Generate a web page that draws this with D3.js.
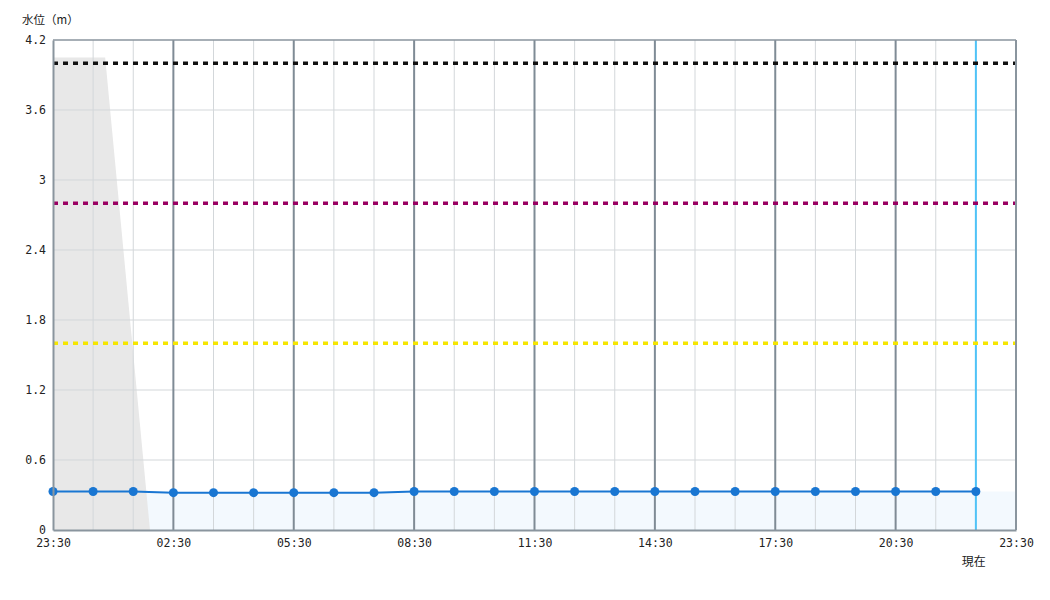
<!DOCTYPE html>
<html><head><meta charset="utf-8">
<script src="https://cdn.jsdelivr.net/npm/d3@7"></script>
<style>
html,body{margin:0;padding:0;background:#fff;}
svg{display:block;}
.tick text{font-family:"DejaVu Sans Mono",monospace;font-size:11.5px;fill:#222;}
</style></head>
<body>
<svg id="chart" width="1050" height="600"></svg>
<script>
// ---- data ----
const startTime = "23:30";
const endTime = "23:30";
const times = ["23:30","00:30","01:30","02:30","03:30","04:30","05:30","06:30","07:30","08:30","09:30","10:30",
               "11:30","12:30","13:30","14:30","15:30","16:30","17:30","18:30","19:30","20:30","21:30","22:30"];
const levels = [0.33,0.33,0.33,0.32,0.32,0.32,0.32,0.32,0.32,0.33,0.33,0.33,
                0.33,0.33,0.33,0.33,0.33,0.33,0.33,0.33,0.33,0.33,0.33,0.33];
const grayTimes = ["23:30","00:48","01:55"];
const grayValues = [4.05,4.05,0];
const thresholdValues = [4.0,2.8,1.6];
const thresholdColors = ["#111111","#9a0062","#f5e600"];
const yTicks = [0,0.6,1.2,1.8,2.4,3,3.6,4.2];
const yTickLabels = ["0","0.6","1.2","1.8","2.4","3","3.6","4.2"];
const nowTime = "22:30";
const yTitle = "水位（m）";
const nowLabel = "現在";

// ---- helpers ----
const base = new Date(2024,0,1,23,30);
function parseT(s, isEnd){
  const [h,m] = s.split(":").map(Number);
  let d = new Date(2024,0,1,h,m);
  if (d < base || (isEnd && +d === +base)) d = new Date(2024,0,2,h,m);
  return d;
}
const t0 = parseT(startTime), t1 = parseT(endTime, true);

const svg = d3.select("#chart");
const margin = {left:53, right:34, top:40, bottom:70};
const W = 1050, H = 600;
const x = d3.scaleTime().domain([t0,t1]).range([margin.left, W - margin.right]);
const y = d3.scaleLinear().domain([0,4.2]).range([H - margin.bottom, margin.top]);

const pts = times.map((t,i)=>({t:parseT(t), v:levels[i]}));
const fillPts = pts.concat([{t:t1, v:levels[levels.length-1]}]);
const grayPts = grayTimes.map((t,i)=>({t:parseT(t), v:grayValues[i]}));

const g = svg.append("g");

// blue fill
g.append("path").datum(fillPts)
  .attr("fill","#f3f9fe")
  .attr("d", d3.area().x(d=>x(d.t)).y0(y(0)).y1(d=>y(d.v)));

// gray area
g.append("path").datum(grayPts)
  .attr("fill","#e8e8e8")
  .attr("d", d3.area().x(d=>x(d.t)).y0(y(0)).y1(d=>y(d.v)));

// minor vertical grid (hourly)
const hourTicks = d3.range(1,24).map(i=>new Date(+t0 + i*3600000));
g.append("g").selectAll("line").data(hourTicks.filter((d,i)=>(i+1)%3!==0)).join("line")
  .attr("x1",d=>x(d)).attr("x2",d=>x(d)).attr("y1",y(4.2)).attr("y2",y(0))
  .attr("stroke","#d3d7da").attr("stroke-width",1);
// horizontal grid
g.append("g").selectAll("line").data(yTicks.slice(1,-1)).join("line")
  .attr("x1",x(t0)).attr("x2",x(t1)).attr("y1",d=>y(d)).attr("y2",d=>y(d))
  .attr("stroke","#d3d7da").attr("stroke-width",1);
// major vertical lines
const majorTicks = hourTicks.filter((d,i)=>(i+1)%3===0);
g.append("g").selectAll("line").data(majorTicks).join("line")
  .attr("x1",d=>x(d)).attr("x2",d=>x(d)).attr("y1",y(4.2)).attr("y2",y(0))
  .attr("stroke","#7f8b95").attr("stroke-width",2);

// current line
const nowT = parseT(nowTime);
g.append("line").attr("x1",x(nowT)).attr("x2",x(nowT)).attr("y1",y(4.2)).attr("y2",y(0))
  .attr("stroke","#4fc3f7").attr("stroke-width",2);

// threshold dotted lines
g.append("g").selectAll("line").data(thresholdValues).join("line")
  .attr("x1",x(t0)).attr("x2",x(t1)).attr("y1",d=>y(d)).attr("y2",d=>y(d))
  .attr("stroke",(d,i)=>thresholdColors[i]).attr("stroke-width",3.5)
  .attr("stroke-dasharray","5,5");

// frame
g.append("line").attr("x1",x(t0)).attr("x2",x(t1)).attr("y1",y(4.2)).attr("y2",y(4.2)).attr("stroke","#8a959e").attr("stroke-width",1.5);
g.append("line").attr("x1",x(t1)).attr("x2",x(t1)).attr("y1",y(4.2)).attr("y2",y(0)).attr("stroke","#8a959e").attr("stroke-width",2);

// water level line
g.append("path").datum(pts)
  .attr("fill","none").attr("stroke","#1976d2").attr("stroke-width",2)
  .attr("d", d3.line().x(d=>x(d.t)).y(d=>y(d.v)));
g.append("g").selectAll("circle").data(pts).join("circle")
  .attr("cx",d=>x(d.t)).attr("cy",d=>y(d.v)).attr("r",4.5).attr("fill","#1976d2");

// axes
const yAxis = d3.axisLeft(y).tickValues(yTicks).tickFormat((d,i)=>yTickLabels[i]).tickSize(0).tickPadding(7);
const ya = svg.append("g").attr("transform",`translate(${margin.left},0)`).call(yAxis);
ya.select(".domain").attr("stroke","#8a959e").attr("stroke-width",2);

const xTickVals = [t0].concat(majorTicks).concat([t1]);
const xAxis = d3.axisBottom(x).tickValues(xTickVals).tickFormat(d3.timeFormat("%H:%M")).tickSize(0).tickPadding(9);
const xa = svg.append("g").attr("transform",`translate(0,${y(0)})`).call(xAxis);
xa.select(".domain").attr("stroke","#8a959e").attr("stroke-width",2);

// titles
svg.append("text").attr("x",22).attr("y",24).text(yTitle)
  .attr("font-family","'Noto Sans CJK JP',sans-serif").attr("font-size",11.5).attr("fill","#222");
svg.append("text").attr("x",x(nowT)-2).attr("y",566).attr("text-anchor","middle").text(nowLabel)
  .attr("font-family","'Noto Sans CJK JP',sans-serif").attr("font-size",12).attr("fill","#222");
</script>
</body></html>
